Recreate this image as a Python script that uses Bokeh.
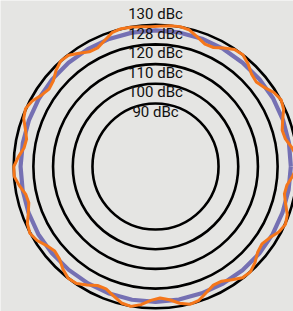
import numpy as np
from bokeh.plotting import figure
from bokeh.models import Range1d, ColumnDataSource
from bokeh.core.properties import value
from bokeh.embed import file_html
from bokeh.resources import INLINE

# ---- data (dBc) ----
ring_levels = [90, 100, 110, 120, 130]
label_texts = ["130 dBc", "128 dBc", "120 dBc", "110 dBc", "100 dBc", "90 dBc"]
label_levels = [135.2, 125.5, 115.4, 105.7, 95.6, 85.9]

# orange trace, angle in degrees (counter-clockwise from 3 o'clock), every 4 deg
orange_angle = list(range(0, 360, 4))
orange_dbc = [
    129.9, 129.9, 127.8, 125.4, 124.9, 126.7, 129.2, 130.2, 128.9, 126.3,
    124.8, 125.7, 128.2, 130.0, 129.7, 127.4, 125.2, 125.0, 127.0, 129.4,
    130.1, 129.8, 129.3, 129.0, 129.3, 129.8, 130.1, 129.4, 127.0, 125.0,
    125.2, 127.4, 129.7, 130.0, 128.2, 125.7, 124.8, 126.3, 128.9, 130.2,
    129.2, 126.7, 124.9, 125.4, 127.8,
    129.9, 129.9, 127.8, 125.4, 124.9, 126.7, 129.2, 130.2, 128.9, 126.3,
    124.8, 125.7, 128.2, 130.0, 129.7, 127.4, 125.2, 125.0, 127.0, 129.4,
    130.1, 128.5, 126.0, 124.8, 126.0, 128.5, 130.1, 129.4, 127.0, 125.0,
    125.2, 127.4, 129.7, 130.0, 128.2, 125.7, 124.8, 126.3, 128.9, 130.2,
    129.2, 126.7, 124.9, 125.4, 127.8,
]

# purple trace, every 10 deg
purple_angle = list(range(0, 360, 10))
purple_dbc = [
    126.7, 126.8, 126.9, 127.0, 126.9, 126.8, 126.9, 127.0, 127.1, 127.1,
    127.0, 126.9, 126.8, 126.7, 126.6, 126.5, 126.4, 126.4, 126.5, 126.5,
    126.6, 126.7, 126.6, 126.5, 126.5, 126.6, 126.7, 126.7, 126.6, 126.5,
    126.6, 126.7, 126.8, 126.7, 126.6, 126.6,
]

# ---- layout / scale ----
R0 = 58.0          # dBc value at the centre
K = 1.97           # pixels per dB
W, H = 293, 311
CX, CY = 155, 166  # centre in figure pixels

def polar(levels, angles):
    a = np.deg2rad(np.asarray(angles, dtype=float))
    r = np.asarray(levels, dtype=float) - R0
    x = np.append(r * np.cos(a), r[0] * np.cos(a[0]))
    y = np.append(r * np.sin(a), r[0] * np.sin(a[0]))
    return x, y

p = figure(width=W, height=H, output_backend="svg", toolbar_location=None,
           x_range=Range1d(-CX / K, (W - CX) / K),
           y_range=Range1d(-(H - CY) / K, CY / K),
           min_border=0)
p.axis.visible = False
p.grid.visible = False
p.outline_line_color = None
p.background_fill_color = "#e5e5e3"
p.border_fill_color = "#e5e5e3"

rings = ColumnDataSource(dict(x=[0] * len(ring_levels), y=[0] * len(ring_levels),
                              r=[v - R0 for v in ring_levels]))
p.circle(x="x", y="y", radius="r", source=rings, fill_color=None,
         line_color="#000000", line_width=2.6)

px, py = polar(purple_dbc, purple_angle)
p.line(px, py, line_color="#7570b3", line_width=4.2, line_join="round")

ox, oy = polar(orange_dbc, orange_angle)
p.line(ox, oy, line_color="#f5761a", line_width=3, line_join="round")

labels = ColumnDataSource(dict(x=[0] * len(label_texts),
                               y=[v - R0 for v in label_levels],
                               t=label_texts))
p.text(x="x", y="y", text="t", source=labels, text_align="center",
       text_baseline="middle", text_font=value("Roboto"),
       text_font_size="15px", text_color="#111111")

open("out.html", "w").write(file_html(p, INLINE))
